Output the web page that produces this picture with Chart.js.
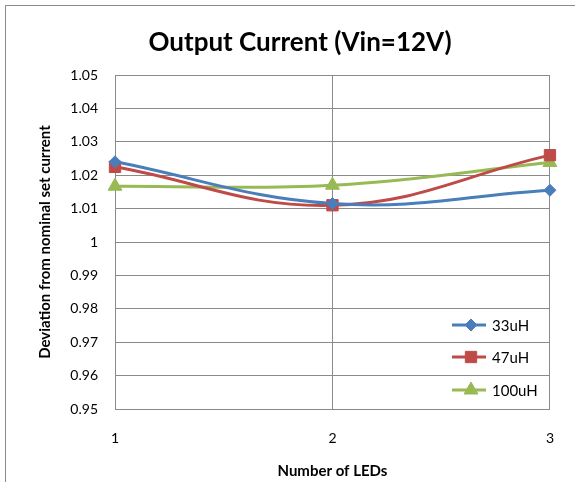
<!DOCTYPE html>
<html>
<head>
<meta charset="utf-8">
<script src="https://cdn.jsdelivr.net/npm/chart.js@4/dist/chart.umd.min.js"></script>
<style>
  html, body { margin: 0; padding: 0; background: #fff; }
  #wrap { position: relative; width: 575px; height: 482px; overflow: hidden; }
  #frame { position: absolute; left: 5px; top: 5px; width: 620px; height: 520px; border: 1px solid #8a8a8a; box-sizing: border-box; }
  canvas { position: absolute; left: 0; top: 0; }
</style>
</head>
<body>
<div id="wrap">
  <div id="frame"></div>
  <canvas id="c" width="575" height="482"></canvas>
</div>
<script>
const chartTitle = 'Output Current (Vin=12V)';
const categories = ['1', '2', '3'];
const seriesNames = ['33uH', '47uH', '100uH'];
const s33uH = [1.024, 1.0115, 1.0155];
const s47uH = [1.0225, 1.011, 1.026];
const s100uH = [1.0167, 1.017, 1.0238];
const yTickLabels = ['0.95', '0.96', '0.97', '0.98', '0.99', '1', '1.01', '1.02', '1.03', '1.04', '1.05'];

const FONT = 'Lato, "Open Sans", sans-serif';
const colors = ['#4a7ebb', '#be4b48', '#98b954'];
const shapes = ['rectRot', 'rect', 'triangle'];
const radii = [6, 8, 8];

function ds(i, data) {
  return {
    label: seriesNames[i],
    data: data,
    borderColor: colors[i],
    backgroundColor: colors[i],
    borderWidth: 3,
    tension: 0.4,
    pointStyle: shapes[i],
    pointRadius: radii[i],
    pointHoverRadius: radii[i],
    pointBorderWidth: 1,
    pointBorderColor: colors[i],
    pointBackgroundColor: colors[i],
    clip: false
  };
}

const titlePlugin = {
  id: 'offsetTitle',
  afterDraw(chart) {
    const ctx = chart.ctx;
    ctx.save();
    ctx.fillStyle = '#000';
    ctx.font = 'bold 26px ' + FONT;
    ctx.textAlign = 'center';
    ctx.textBaseline = 'middle';
    ctx.fillText(chartTitle, 300, 43);
    ctx.restore();
  }
};

const legendPlugin = {
  id: 'insideLegend',
  afterDatasetsDraw(chart) {
    const ctx = chart.ctx;
    const ys = [325, 357, 390];
    chart.data.datasets.forEach((d, i) => {
      const y = ys[i];
      ctx.save();
      ctx.strokeStyle = d.borderColor;
      ctx.lineWidth = 3;
      ctx.beginPath();
      ctx.moveTo(452, y);
      ctx.lineTo(486, y);
      ctx.stroke();
      ctx.fillStyle = d.pointBackgroundColor;
      ctx.strokeStyle = d.pointBorderColor;
      ctx.lineWidth = 1;
      Chart.helpers.drawPoint(ctx, {
        pointStyle: d.pointStyle,
        radius: d.pointRadius,
        rotation: 0,
        borderWidth: 1
      }, 471, y);
      ctx.fillStyle = '#000';
      ctx.font = '15px ' + FONT;
      ctx.textAlign = 'left';
      ctx.textBaseline = 'middle';
      ctx.fillText(d.label, 492, y + 1);
      ctx.restore();
    });
  }
};

new Chart(document.getElementById('c'), {
  type: 'line',
  data: {
    labels: categories,
    datasets: [ds(0, s33uH), ds(1, s47uH), ds(2, s100uH)]
  },
  plugins: [legendPlugin, titlePlugin],
  options: {
    responsive: false,
    animation: false,
    devicePixelRatio: 1,
    layout: { padding: { left: 0, right: 24, top: 75, bottom: 0 } },
    plugins: {
      legend: { display: false },
      tooltip: { enabled: false },
      title: { display: false }
    },
    scales: {
      x: {
        type: 'category',
        offset: false,
        grid: { display: true, color: '#8a8a8a', lineWidth: 1, drawTicks: false },
        border: { display: true, color: '#8a8a8a', width: 1 },
        ticks: { color: '#000', font: { family: FONT, size: 14 }, padding: 21, maxRotation: 0 },
        title: {
          display: true,
          text: 'Number of LEDs',
          color: '#000',
          font: { family: FONT, size: 15, weight: 'bold', lineHeight: 1.2 },
          padding: { top: 0, bottom: 2 }
        },
        afterFit(scale) { scale.height = 73; }
      },
      y: {
        min: 0.95,
        max: 1.05,
        grid: { display: true, color: '#8a8a8a', lineWidth: 1, drawTicks: false },
        border: { display: true, color: '#8a8a8a', width: 1 },
        ticks: {
          stepSize: 0.01,
          color: '#000',
          font: { family: FONT, size: 14 },
          padding: 17,
          callback: function(value, index) { return yTickLabels[index]; }
        },
        title: {
          display: true,
          text: 'Deviation from nominal set current',
          color: '#000',
          font: { family: FONT, size: 15, weight: 'bold', lineHeight: 1.2 },
          padding: { top: 36, bottom: 0 }
        },
        afterFit(scale) { scale.width = 115; }
      }
    }
  }
});
</script>
</body>
</html>
